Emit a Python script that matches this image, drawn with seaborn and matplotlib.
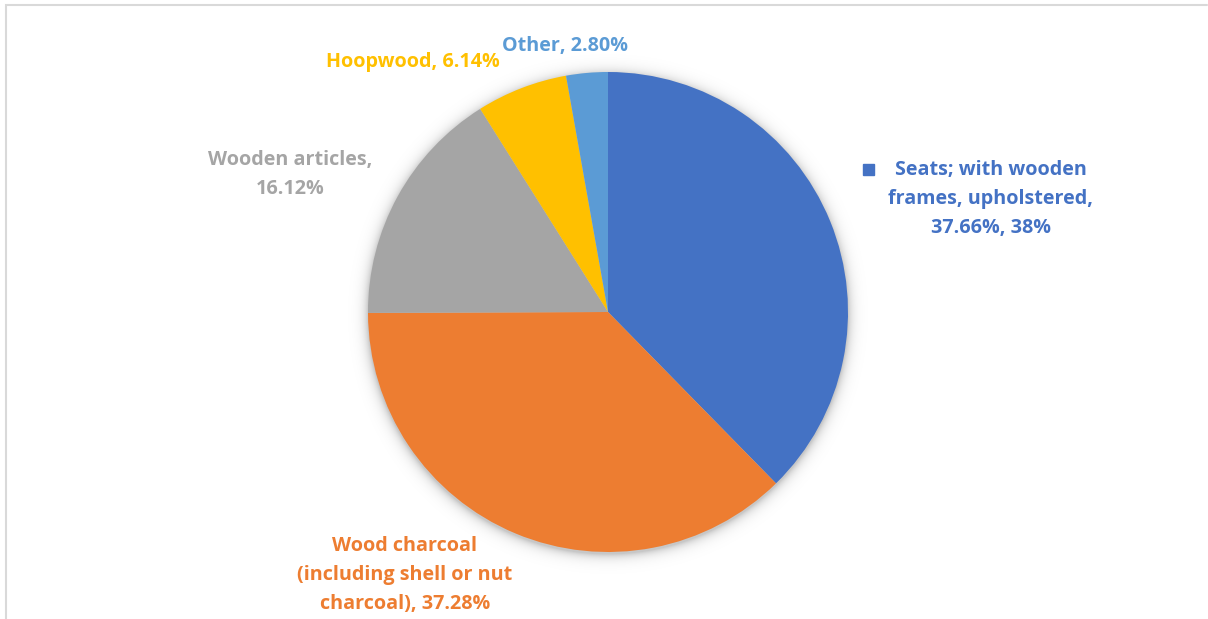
import numpy as np
import matplotlib
matplotlib.use("Agg")
import matplotlib.pyplot as plt
import seaborn as sns

# Export shares by product group
categories = [
    "Seats; with wooden frames, upholstered",
    "Wood charcoal (including shell or nut charcoal)",
    "Wooden articles",
    "Hoopwood",
    "Other",
]
shares = [37.66, 37.28, 16.12, 6.14, 2.80]
label_lines = [
    ["Seats; with wooden", "frames, upholstered,", "{v:.2f}%, {r:.0f}%"],
    ["Wood charcoal", "(including shell or nut", "charcoal), {v:.2f}%"],
    ["Wooden articles,", "{v:.2f}%"],
    ["Hoopwood, {v:.2f}%"],
    ["Other, {v:.2f}%"],
]
colors = ["#4472C4", "#ED7D31", "#A5A5A5", "#FFC000", "#5B9BD5"]

sns.set_theme(style="white")
plt.rcParams["font.family"] = ["Open Sans", "DejaVu Sans"]

W, H = 1208, 619
fig = plt.figure(figsize=(W / 100, H / 100), dpi=100)
ax = fig.add_axes([0, 0, 1, 1])

cx, cy, r = 608, H - 312, 240

# soft drop shadow behind the pie
yy, xx = np.mgrid[0:H, 0:W]
d = np.hypot(xx + 0.5 - cx, (H - yy - 0.5) - (cy - 2))
alpha = np.clip(0.22 * np.exp(-np.clip(d - r, 0, None) / 5.0), 0, 1)
alpha[d > r + 30] = 0
shadow = np.zeros((H, W, 4))
shadow[..., 3] = alpha
ax.imshow(shadow, extent=(0, W, 0, H), zorder=0, interpolation="bilinear")

ax.pie(shares, colors=colors, startangle=90, counterclock=False,
       center=(cx, cy), radius=r, frame=True,
       wedgeprops=dict(linewidth=0, zorder=1))
ax.set_xlim(0, W)
ax.set_ylim(0, H)
ax.set_aspect("equal")
ax.set_axis_off()

# label anchor points (pixel space, top-origin) and line spacing
anchors = [(991, 170), (405, 546), (290, 160), (413, 62), (565, 46)]
line_gap = 29.0
for lines, v, col, (px, py) in zip(label_lines, shares, colors, anchors):
    for i, ln in enumerate(lines):
        ax.text(px, H - (py + i * line_gap), ln.format(v=v, r=round(v)),
                color=col, fontsize=14.2, fontweight="bold",
                ha="center", va="center", zorder=5)

# legend key beside the first label
ax.add_patch(plt.Rectangle((863, H - 175), 11, 11, color=colors[0], zorder=5))

# chart area border (top and left edges)
ax.plot([6, 6, W - 1], [0, H - 4.5, H - 4.5], color="#D9D9D9",
        linewidth=1.5, zorder=6, solid_joinstyle="miter")

fig.savefig("out.png", dpi=100)
